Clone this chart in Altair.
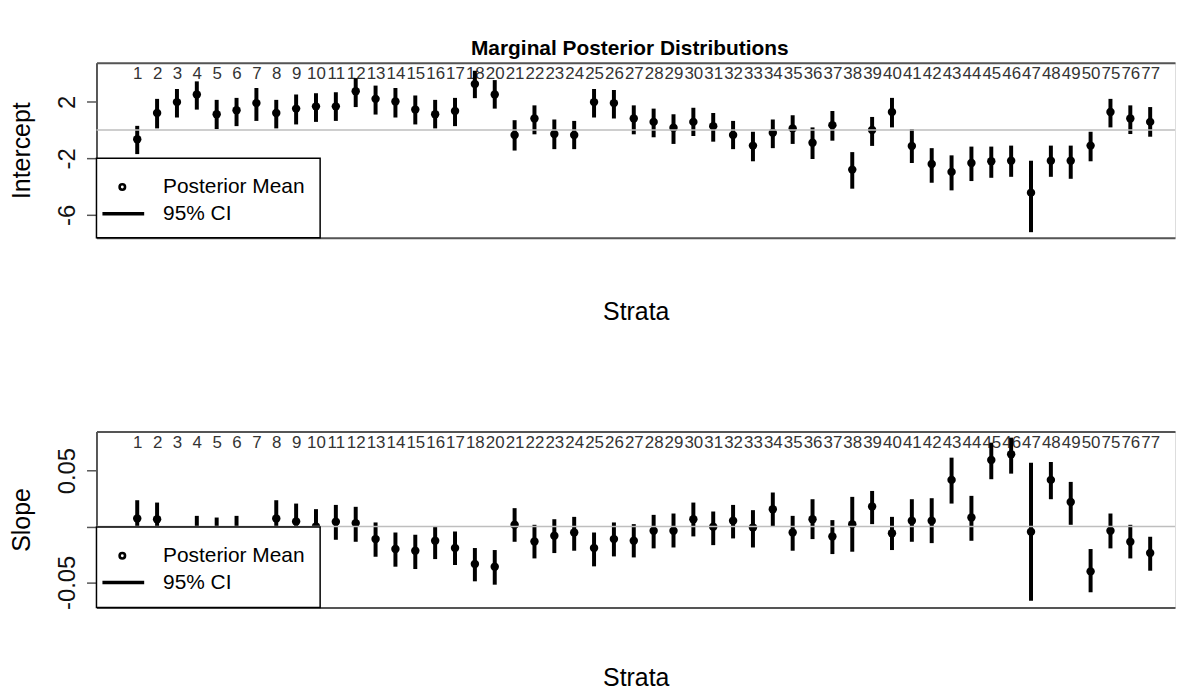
import altair as alt
import pandas as pd

# ---------------- data ----------------
strata = ["1", "2", "3", "4", "5", "6", "7", "8", "9", "10", "11", "12", "13", "14",
          "15", "16", "17", "18", "20", "21", "22", "23", "24", "25", "26", "27", "28",
          "29", "30", "31", "32", "33", "34", "35", "36", "37", "38", "39", "40", "41",
          "42", "43", "44", "45", "46", "47", "48", "49", "50", "75", "76", "77"]

int_mean = [-0.65, 1.21, 1.98, 2.52, 1.12, 1.40, 1.91, 1.21, 1.52, 1.68, 1.68, 2.75, 2.21,
            2.03, 1.45, 1.12, 1.35, 3.26, 2.52, -0.35, 0.82, -0.28, -0.35, 1.98, 1.91, 0.82,
            0.58, 0.16, 0.58, 0.28, -0.35, -1.10, -0.19, 0.12, -0.89, 0.35, -2.80, 0.00,
            1.28, -1.12, -2.40, -2.96, -2.33, -2.21, -2.17, -4.43, -2.17, -2.17, -1.10,
            1.28, 0.82, 0.58]
int_lo = [-1.70, 0.12, 0.89, 1.45, 0.07, 0.28, 0.65, 0.12, 0.40, 0.58, 0.65, 1.63, 1.10,
          0.89, 0.40, 0.12, 0.28, 2.26, 1.52, -1.45, -0.30, -1.35, -1.35, 0.89, 0.82, -0.30,
          -0.51, -0.98, -0.42, -0.82, -1.35, -2.21, -1.28, -0.98, -2.05, -0.75, -4.15, -1.12,
          0.19, -2.33, -3.73, -4.27, -3.61, -3.38, -3.31, -7.23, -3.31, -3.45, -2.21,
          0.19, -0.28, -0.47]
int_hi = [0.30, 2.21, 2.91, 3.45, 2.14, 2.28, 2.98, 2.14, 2.52, 2.61, 2.68, 3.68, 3.15,
          2.98, 2.45, 2.14, 2.28, 4.20, 3.54, 0.70, 1.75, 0.75, 0.65, 2.91, 2.84, 1.75,
          1.52, 1.12, 1.58, 1.21, 0.65, -0.12, 0.75, 1.05, 0.19, 1.35, -1.56, 0.93,
          2.28, 0.07, -1.28, -1.79, -1.17, -1.17, -1.10, -2.17, -1.10, -1.10, -0.12,
          2.21, 1.75, 1.63]

slope_mean = [0.0071, 0.0065, -0.0140, -0.0065, -0.0070, -0.0060, -0.0130, 0.0071, 0.0045,
              0.0000, 0.0042, 0.0030, -0.0113, -0.0202, -0.0217, -0.0128, -0.0193, -0.0336,
              -0.0360, 0.0015, -0.0134, -0.0083, -0.0054, -0.0193, -0.0113, -0.0128, -0.0039,
              -0.0039, 0.0065, -0.0003, 0.0051, -0.0009, 0.0155, -0.0054, 0.0065, -0.0089,
              0.0021, 0.0179, -0.0060, 0.0051, 0.0051, 0.0417, 0.0080, 0.0595, 0.0646,
              -0.0048, 0.0417, 0.0220, -0.0402, -0.0039, -0.0137, -0.0238]
slope_lo = [-0.0093, -0.0084, -0.0280, -0.0220, -0.0230, -0.0220, -0.0270, -0.0090, -0.0110,
            -0.0155, -0.0119, -0.0137, -0.0271, -0.0360, -0.0381, -0.0292, -0.0345, -0.0491,
            -0.0521, -0.0137, -0.0286, -0.0238, -0.0217, -0.0357, -0.0268, -0.0277, -0.0196,
            -0.0188, -0.0089, -0.0167, -0.0107, -0.0188, 0.0000, -0.0217, -0.0113, -0.0247,
            -0.0226, 0.0021, -0.0211, -0.0137, -0.0149, 0.0205, -0.0128, 0.0423, 0.0473,
            -0.0664, 0.0244, 0.0015, -0.0589, -0.0196, -0.0286, -0.0396]
slope_hi = [0.0235, 0.0214, -0.0010, 0.0095, 0.0080, 0.0095, -0.0010, 0.0235, 0.0205,
            0.0155, 0.0193, 0.0176, 0.0036, -0.0054, -0.0074, 0.0000, -0.0045, -0.0193,
            -0.0211, 0.0164, 0.0015, 0.0065, 0.0086, -0.0054, 0.0036, 0.0021, 0.0104,
            0.0116, 0.0214, 0.0134, 0.0193, 0.0146, 0.0304, 0.0095, 0.0244, 0.0057,
            0.0265, 0.0318, 0.0086, 0.0244, 0.0253, 0.0616, 0.0274, 0.0750, 0.0795,
            0.0571, 0.0577, 0.0399, -0.0202, 0.0116, 0.0015, -0.0092]

legend_labels = ["Posterior Mean", "95% CI"]

# ---------------- layout constants ----------------
W = 1085
H1 = 176
H2 = 177
FONT = "Liberation Sans"
BOX = "#555555"

pos = list(range(1, len(strata) + 1))
df_int = pd.DataFrame({"pos": pos, "Strata": strata, "mean": int_mean, "lo": int_lo, "hi": int_hi})
df_slope = pd.DataFrame({"pos": pos, "Strata": strata, "mean": slope_mean, "lo": slope_lo, "hi": slope_hi})
one = pd.DataFrame({"k": [0]})

label_array = "[" + ",".join("'" + s + "'" for s in strata) + "]"
xscale = alt.Scale(domain=[-1.052, 53.25], nice=False, zero=False)


def x_top():
    return alt.X("pos:Q", scale=xscale,
                 axis=alt.Axis(orient="top", title=None, values=pos,
                               labelExpr=label_array + "[datum.value - 1]",
                               ticks=False, tickSize=0,
                               labelPadding=-11, labelBaseline="middle", labelAngle=0,
                               labelAlign="center",
                               labelFontSize=17, labelColor="#333333", labelFont=FONT,
                               labelOverlap=False, labelBound=False, labelFlush=False,
                               domain=True, domainColor=BOX, domainWidth=2, grid=False))


def x_bot(title_y):
    return alt.X("pos:Q", scale=xscale,
                 axis=alt.Axis(orient="bottom", title="Strata", labels=False, ticks=False,
                               tickSize=0, domain=True, domainColor=BOX, domainWidth=2,
                               grid=False, titleFontSize=25, titleFont=FONT,
                               titleFontWeight="normal", titleColor="black",
                               titleY=title_y, titleBaseline="middle"))


def panel(df, ytitle, domain, values, label_expr, height, title_y, title=None):
    yaxis = alt.Axis(title=ytitle, values=values, labelExpr=label_expr, grid=False,
                     domain=True, domainColor=BOX, domainWidth=2,
                     ticks=True, tickSize=10, tickColor=BOX, tickWidth=1.5,
                     labelAngle=270, labelAlign="center", labelBaseline="bottom",
                     labelPadding=7, labelFontSize=24, labelFont=FONT, labelColor="#111111",
                     titleFontSize=25, titleFont=FONT, titleFontWeight="normal",
                     titleColor="black", titleX=-75, titleBaseline="middle",
                     titleAlign="center")
    yscale = alt.Scale(domain=domain, nice=False, zero=False)
    base = alt.Chart(df)
    rules = base.mark_rule(strokeWidth=4, color="black").encode(
        x=x_top(), y=alt.Y("lo:Q", scale=yscale, axis=yaxis), y2="hi:Q")
    points = base.mark_point(filled=True, size=72, color="black", opacity=1).encode(
        x=x_bot(title_y), y=alt.Y("mean:Q", scale=yscale, axis=yaxis))
    zero = alt.Chart(one).mark_rule(color="#BEBEBE", strokeWidth=1.5).encode(y=alt.datum(0))
    lg = alt.Chart(one)
    box = lg.mark_rect(fill="white", stroke="black", strokeWidth=1.5).encode(
        x=alt.value(0), x2=alt.value(225), y=alt.value(96), y2=alt.value(height))
    sym = lg.mark_point(shape="circle", filled=False, size=30, strokeWidth=2.6,
                        color="black", opacity=1).encode(x=alt.value(26), y=alt.value(125))
    line = lg.mark_rule(strokeWidth=3.5, color="black").encode(
        x=alt.value(6), x2=alt.value(48), y=alt.value(152))
    t1 = lg.mark_text(align="left", baseline="middle", fontSize=21, font=FONT,
                      color="black").encode(x=alt.value(67), y=alt.value(125),
                                            text=alt.value(legend_labels[0]))
    t2 = lg.mark_text(align="left", baseline="middle", fontSize=21, font=FONT,
                      color="black").encode(x=alt.value(67), y=alt.value(152),
                                            text=alt.value(legend_labels[1]))
    props = dict(width=W, height=height)
    if title is not None:
        props["title"] = title
    return alt.layer(rules, points, zero, box, sym, line, t1, t2).resolve_axis(
        x="independent").properties(**props)


top = panel(df_int, "Intercept", [-7.62, 4.77], [-6, -4, -2, 0, 2, 4],
            "datum.value == 2 ? '2' : (datum.value == -2 ? '-2' : (datum.value == -6 ? '-6' : ''))",
            H1, 74,
            title=alt.TitleParams("Marginal Posterior Distributions", fontSize=21,
                                  font=FONT, fontWeight="bold", color="black",
                                  anchor="middle", frame="group", dx=-6, offset=-13,
                                  baseline="alphabetic"))
bottom = panel(df_slope, "Slope", [-0.0725, 0.085], [-0.05, 0, 0.05],
               "datum.value > 0.01 ? '0.05' : (datum.value < -0.01 ? '-0.05' : '')",
               H2, 71)

chart = alt.vconcat(top, bottom, spacing=106).properties(
    padding={"left": 1, "top": 27, "right": 0, "bottom": 0}
).configure_view(strokeWidth=0).configure(background="white")

chart.save("out.html", embed_options={"renderer": "svg", "actions": False})
